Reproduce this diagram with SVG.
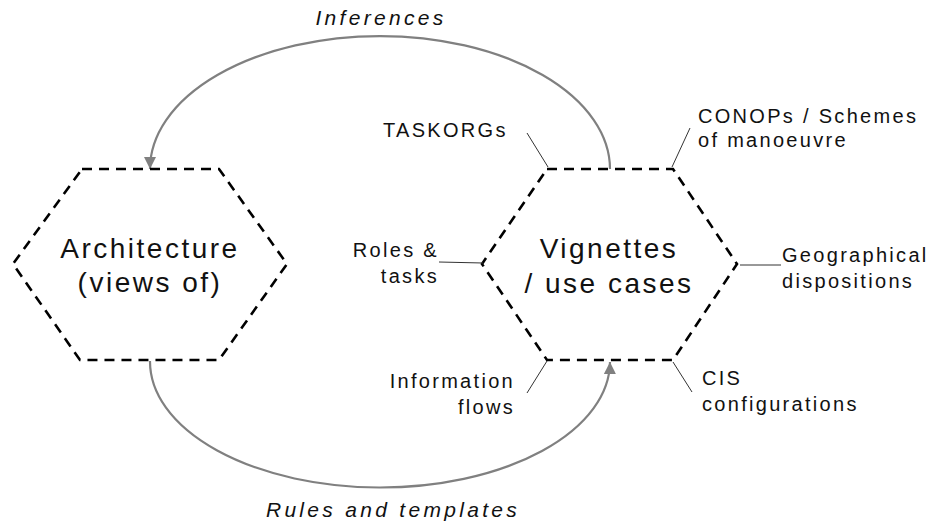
<svg xmlns="http://www.w3.org/2000/svg" width="935" height="523" viewBox="0 0 935 523">
<style>
.hex{fill:none;stroke:#000;stroke-width:2.6;stroke-dasharray:10 7}
.big{font-family:"Liberation Sans",Arial,sans-serif;font-size:28px;letter-spacing:2.5px;fill:#111;text-anchor:middle}
.lbl{font-family:"Liberation Sans",Arial,sans-serif;font-size:20px;letter-spacing:2.3px;fill:#111}
.ital{font-family:"Liberation Sans",Arial,sans-serif;font-size:21px;letter-spacing:3.3px;font-style:italic;fill:#111;text-anchor:middle}
.arc{fill:none;stroke:#808080;stroke-width:2.2}
.lead{stroke:#333;stroke-width:1;fill:none}
</style>
<defs>
<marker id="ah" viewBox="0 0 12 12" refX="12" refY="6" markerWidth="12" markerHeight="12" markerUnits="userSpaceOnUse" orient="auto">
<path d="M0,0 L12,6 L0,12 Z" fill="#808080"/>
</marker>
</defs>
<g id="connectors">
<path class="arc" d="M610,169 A230,133 0 0 0 150,169" marker-end="url(#ah)"/>
<path class="arc" d="M150,361 A230,126 0 0 0 610,362" marker-end="url(#ah)"/>
<text class="ital" x="381" y="25">Inferences</text>
<text class="ital" x="393" y="517">Rules and templates</text>
</g>
<g id="architecture">
<polygon class="hex" points="82,169 219,169 287,264 219,360 80,360 13,264"/>
<text class="big" x="150" y="258">Architecture</text>
<text class="big" x="150" y="292">(views of)</text>
</g>
<g id="vignettes">
<polygon class="hex" points="547,169 673,169 737,264 673,360 547,360 482,264"/>
<text class="big" x="609" y="258">Vignettes</text>
<text class="big" x="609" y="293">/ use cases</text>
</g>
<g id="taskorgs">
<line class="lead" x1="527" y1="133" x2="548" y2="167"/>
<text class="lbl" x="383" y="137">TASKORGs</text>
</g>
<g id="conops">
<line class="lead" x1="690" y1="128" x2="672" y2="167"/>
<text class="lbl" x="698" y="123">CONOPs / Schemes</text>
<text class="lbl" x="698" y="147">of manoeuvre</text>
</g>
<g id="roles">
<line class="lead" x1="439" y1="262" x2="483" y2="263"/>
<text class="lbl" x="439" y="257" text-anchor="end">Roles &amp;</text>
<text class="lbl" x="439" y="283" text-anchor="end">tasks</text>
</g>
<g id="geo">
<line class="lead" x1="740" y1="265" x2="781" y2="265"/>
<text class="lbl" x="782" y="262">Geographical</text>
<text class="lbl" x="782" y="288">dispositions</text>
</g>
<g id="info">
<line class="lead" x1="527" y1="393" x2="547" y2="361"/>
<text class="lbl" x="515" y="388" text-anchor="end">Information</text>
<text class="lbl" x="515" y="414" text-anchor="end">flows</text>
</g>
<g id="cis">
<line class="lead" x1="673" y1="362" x2="692" y2="392"/>
<text class="lbl" x="702" y="385">CIS</text>
<text class="lbl" x="702" y="411">configurations</text>
</g>
</svg>
